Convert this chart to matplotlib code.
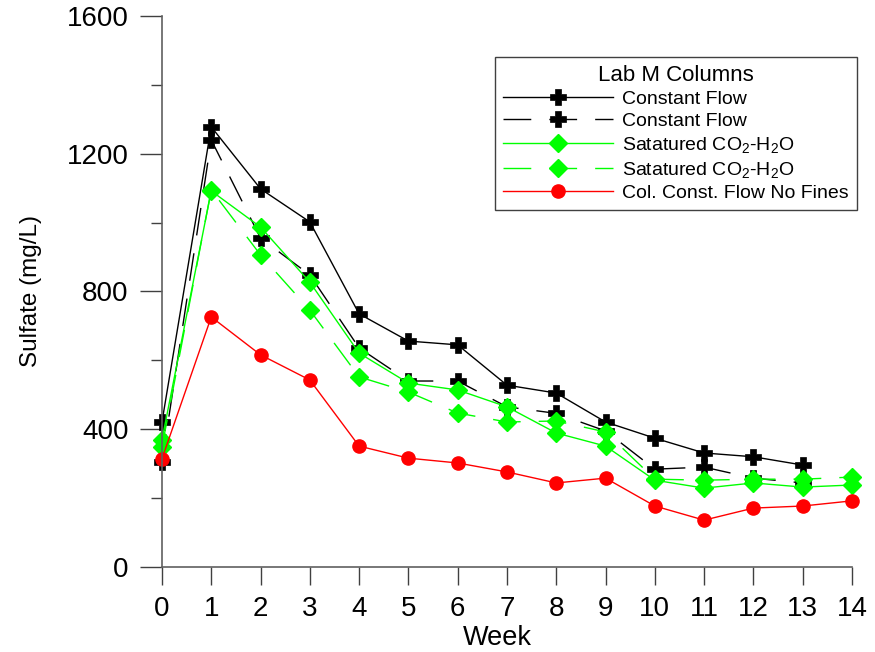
import matplotlib
matplotlib.use("Agg")
from matplotlib import pyplot as plt
from matplotlib.ticker import MultipleLocator

weeks = list(range(15))
weeks_cf = list(range(14))

const_flow_1 = [421, 1278, 1098, 1002, 735, 656, 645, 528, 505, 421, 374, 331, 320, 296]
const_flow_2 = [305, 1240, 955, 848, 636, 540, 540, 465, 446, 395, 284, 290, 258, 244]
sat_co2_1 = [369, 1092, 987, 827, 621, 534, 514, 465, 389, 351, 252, 229, 244, 232, 238]
sat_co2_2 = [348, 1095, 906, 746, 552, 508, 447, 421, 424, 392, 255, 252, 255, 255, 261]
no_fines = [314, 726, 616, 543, 351, 316, 302, 276, 244, 258, 177, 136, 171, 177, 192]

labels = ["Constant Flow", "Constant Flow",
          "Satatured CO$_2$-H$_2$O", "Satatured CO$_2$-H$_2$O",
          "Col. Const. Flow No Fines"]

plt.rcParams['font.family'] = ['Liberation Sans', 'DejaVu Sans']
plt.rcParams['mathtext.default'] = 'regular'

fig = plt.figure(figsize=(8.75, 6.52), dpi=100)
ax = fig.add_axes([0.1851, 0.1304, 0.7886, 0.8451])

dash = (20, 13)
ax.plot(weeks_cf, const_flow_1, color='black', lw=1, marker='P', ms=11,
        mec='black', mfc='black', mew=0.5, clip_on=False, label=labels[0])
ax.plot(weeks_cf, const_flow_2, color='black', lw=1, dashes=dash, marker='P', ms=11,
        mec='black', mfc='black', mew=0.5, clip_on=False, label=labels[1])
ax.plot(weeks, sat_co2_1, color='#00ff00', lw=1, marker='D', ms=9.5,
        mec='#00ff00', mfc='#00ff00', clip_on=False, label=labels[2])
ax.plot(weeks, sat_co2_2, color='#00ff00', lw=1, dashes=dash, marker='D', ms=9.5,
        mec='#00ff00', mfc='#00ff00', clip_on=False, label=labels[3])
ax.plot(weeks, no_fines, color='red', lw=1, marker='o', ms=9.5,
        mec='red', mfc='red', clip_on=False, label=labels[4])

ax.set_xlim(0, 14)
ax.set_ylim(0, 1600)
ax.set_xticks(weeks)
ax.yaxis.set_major_locator(MultipleLocator(400))
ax.yaxis.set_minor_locator(MultipleLocator(200))

for side in ['top', 'right']:
    ax.spines[side].set_visible(False)
for side in ['left', 'bottom']:
    ax.spines[side].set_color('#606060')
    ax.spines[side].set_linewidth(1.2)

ax.tick_params(axis='y', which='major', direction='out', length=16, width=1,
               color='#404040', labelsize=20, pad=8)
ax.tick_params(axis='y', which='minor', direction='out', length=8, width=1, color='#404040')
ax.tick_params(axis='x', which='major', direction='out', length=13, width=1,
               color='#404040', labelsize=20, pad=8)

ax.set_ylabel("Sulfate (mg/L)", fontsize=17.5)
ax.yaxis.set_label_coords(-0.174, 0.5)
ax.set_xlabel("Week", fontsize=19.5)
ax.xaxis.set_label_coords(0.486, -0.105)

leg = ax.legend(loc='upper right', bbox_to_anchor=(1.007, 0.9256), borderaxespad=0,
                title="Lab M Columns", title_fontsize=16, fontsize=14,
                numpoints=1, handlelength=5.65, handletextpad=0.5, labelspacing=0.24,
                borderpad=0.4, fancybox=False, framealpha=1)
leg.get_frame().set_edgecolor('#404040')
leg.get_frame().set_linewidth(1)

plt.savefig("out.png", dpi=100)
plt.close(fig)
